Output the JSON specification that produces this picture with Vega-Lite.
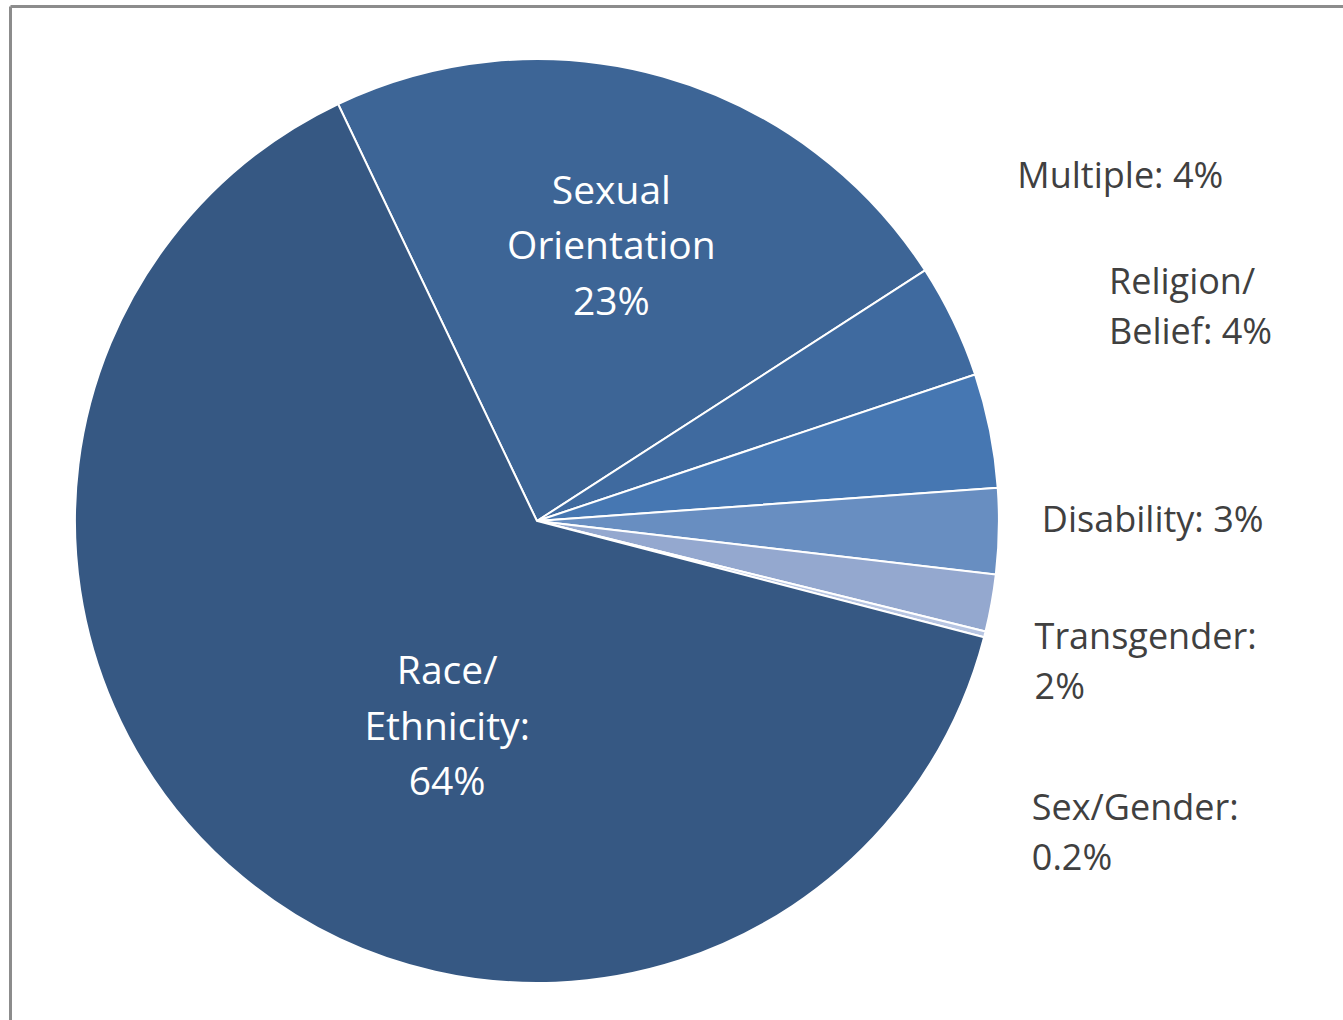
{
  "$schema": "https://vega.github.io/schema/vega-lite/v6.json",
  "width": 1333,
  "height": 1014,
  "autosize": {"type": "none"},
  "padding": {"left": 10, "top": 6, "right": 0, "bottom": 0},
  "background": "#ffffff",
  "config": {"view": {"stroke": null}, "text": {"font": "Open Sans"}},
  "data": {
    "values": [
      {"category": "Sexual Orientation", "value": 23, "label": "Sexual\nOrientation\n23%"},
      {"category": "Multiple", "value": 4, "label": "Multiple: 4%"},
      {"category": "Religion/Belief", "value": 4, "label": "Religion/\nBelief: 4%"},
      {"category": "Disability", "value": 3, "label": "Disability: 3%"},
      {"category": "Transgender", "value": 2, "label": "Transgender:\n2%"},
      {"category": "Sex/Gender", "value": 0.2, "label": "Sex/Gender:\n0.2%"},
      {"category": "Race/Ethnicity", "value": 64, "label": "Race/\nEthnicity:\n64%"}
    ]
  },
  "transform": [{"window": [{"op": "row_number", "as": "rank"}]}],
  "encoding": {
    "theta": {"field": "value", "type": "quantitative", "stack": true, "scale": {"range": [-0.445, 5.8382]}},
    "order": {"field": "rank", "type": "quantitative"},
    "x": {"datum": 0.3953, "type": "quantitative", "scale": {"domain": [0, 1], "nice": false},
      "axis": {"orient": "top", "domainColor": "#8c8c8c", "domainWidth": 3, "ticks": false, "labels": false, "grid": false, "title": null}},
    "y": {"datum": 0.4921, "type": "quantitative", "scale": {"domain": [0, 1], "nice": false},
      "axis": {"orient": "left", "domainColor": "#8c8c8c", "domainWidth": 3, "ticks": false, "labels": false, "grid": false, "title": null}}
  },
  "layer": [
    {
      "mark": {"type": "arc", "radius": 462, "stroke": "#ffffff", "strokeWidth": 2},
      "encoding": {
        "color": {"field": "category", "type": "nominal", "legend": null,
          "scale": {
            "domain": ["Sexual Orientation", "Multiple", "Religion/Belief", "Disability", "Transgender", "Sex/Gender", "Race/Ethnicity"],
            "range": ["#3d6596", "#3f6a9f", "#4677b2", "#688ec1", "#94a8cf", "#b7c5e2", "#365883"]
          }}
      }
    },
    {
      "mark": {"type": "text", "radius": 284, "align": "center", "baseline": "middle", "dx": -3, "dy": -56, "fontSize": 39, "lineHeight": 55.5, "lineBreak": "\n", "color": "#ffffff"},
      "encoding": {"text": {"condition": {"test": "datum.category === 'Sexual Orientation'", "field": "label"}, "value": ""}}
    },
    {
      "mark": {"type": "text", "radius": 240, "align": "center", "baseline": "middle", "dx": 63, "dy": -34, "fontSize": 39, "lineHeight": 55.5, "lineBreak": "\n", "color": "#ffffff"},
      "encoding": {"text": {"condition": {"test": "datum.category === 'Race/Ethnicity'", "field": "label"}, "value": ""}}
    },
    {
      "mark": {"type": "text", "radius": 462, "align": "left", "baseline": "middle", "dx": 64, "dy": -144, "fontSize": 36, "lineHeight": 50, "lineBreak": "\n", "color": "#404040"},
      "encoding": {"text": {"condition": {"test": "datum.category === 'Multiple'", "field": "label"}, "value": ""}}
    },
    {
      "mark": {"type": "text", "radius": 462, "align": "left", "baseline": "middle", "dx": 119, "dy": -147, "fontSize": 36, "lineHeight": 50, "lineBreak": "\n", "color": "#404040"},
      "encoding": {"text": {"condition": {"test": "datum.category === 'Religion/Belief'", "field": "label"}, "value": ""}}
    },
    {
      "mark": {"type": "text", "radius": 462, "align": "left", "baseline": "middle", "dx": 43, "dy": -10, "fontSize": 36, "lineHeight": 50, "lineBreak": "\n", "color": "#404040"},
      "encoding": {"text": {"condition": {"test": "datum.category === 'Disability'", "field": "label"}, "value": ""}}
    },
    {
      "mark": {"type": "text", "radius": 462, "align": "left", "baseline": "middle", "dx": 43, "dy": 35, "fontSize": 36, "lineHeight": 50, "lineBreak": "\n", "color": "#404040"},
      "encoding": {"text": {"condition": {"test": "datum.category === 'Transgender'", "field": "label"}, "value": ""}}
    },
    {
      "mark": {"type": "text", "radius": 462, "align": "left", "baseline": "middle", "dx": 47, "dy": 175, "fontSize": 36, "lineHeight": 50, "lineBreak": "\n", "color": "#404040"},
      "encoding": {"text": {"condition": {"test": "datum.category === 'Sex/Gender'", "field": "label"}, "value": ""}}
    }
  ]
}
